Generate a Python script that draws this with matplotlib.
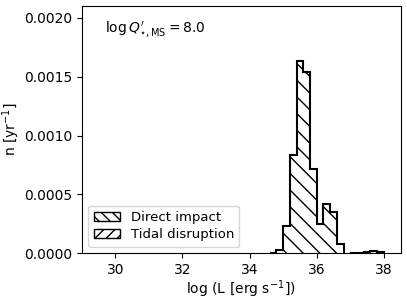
import matplotlib
matplotlib.use("Agg")
import matplotlib.pyplot as plt
import numpy as np
from matplotlib.patches import Patch

# Data
di_edges = [34.6, 34.8, 35.0, 35.2, 35.4, 35.6, 35.8, 36.0, 36.2, 36.4, 36.6, 36.8]
di_values = [0.000003, 0.000026, 0.000228, 0.000832, 0.00163, 0.001536,
             0.000712, 0.000248, 0.000416, 0.000353, 0.000083]
td_edges = [37.0, 37.2, 37.4, 37.6, 37.8, 38.0]
td_values = [0.000005, 0.000006, 0.000012, 0.000016, 0.000012]

label_di = "Direct impact"
label_td = "Tidal disruption"
annot = r"$\log Q^{\prime}_{\star,\rm MS} = 8.0$"
xticks = [30, 32, 34, 36, 38]
yticks = [0.0, 0.0005, 0.0010, 0.0015, 0.0020]

fig = plt.figure(figsize=(4.07, 3.0), dpi=100)
ax = fig.add_axes([0.2007, 0.1557, 0.7838, 0.8243])

ax.stairs(di_values, di_edges, fill=True, facecolor="white", edgecolor="black",
          hatch="\\\\", linewidth=0)
ax.stairs(di_values, di_edges, fill=False, color="black", linewidth=1.5, baseline=0)
ax.stairs(td_values, td_edges, fill=True, facecolor="white", edgecolor="black",
          hatch="//", linewidth=0)
ax.stairs(td_values, td_edges, fill=False, color="black", linewidth=1.5, baseline=0)

ax.set_xlim(29, 38.5)
ax.set_ylim(0, 0.0021)
ax.set_xticks(xticks)
ax.set_yticks(yticks)
ax.set_yticklabels([f"{v:.4f}" for v in yticks])
ax.tick_params(labelsize=10)

ax.set_xlabel(r"log (L [erg s$^{-1}$])", fontsize=10, labelpad=1)
ax.set_ylabel(r"n [yr$^{-1}$]", fontsize=10, labelpad=1.5)

ax.text(0.073, 0.945, annot, transform=ax.transAxes, fontsize=10, va="top", ha="left")

handles = [Patch(facecolor="white", edgecolor="black", hatch="\\\\\\", label=label_di),
           Patch(facecolor="white", edgecolor="black", hatch="///", label=label_td)]
ax.legend(handles=handles, loc="lower left", fontsize=9.5, labelspacing=0.35)

fig.savefig("out.png", dpi=100)
